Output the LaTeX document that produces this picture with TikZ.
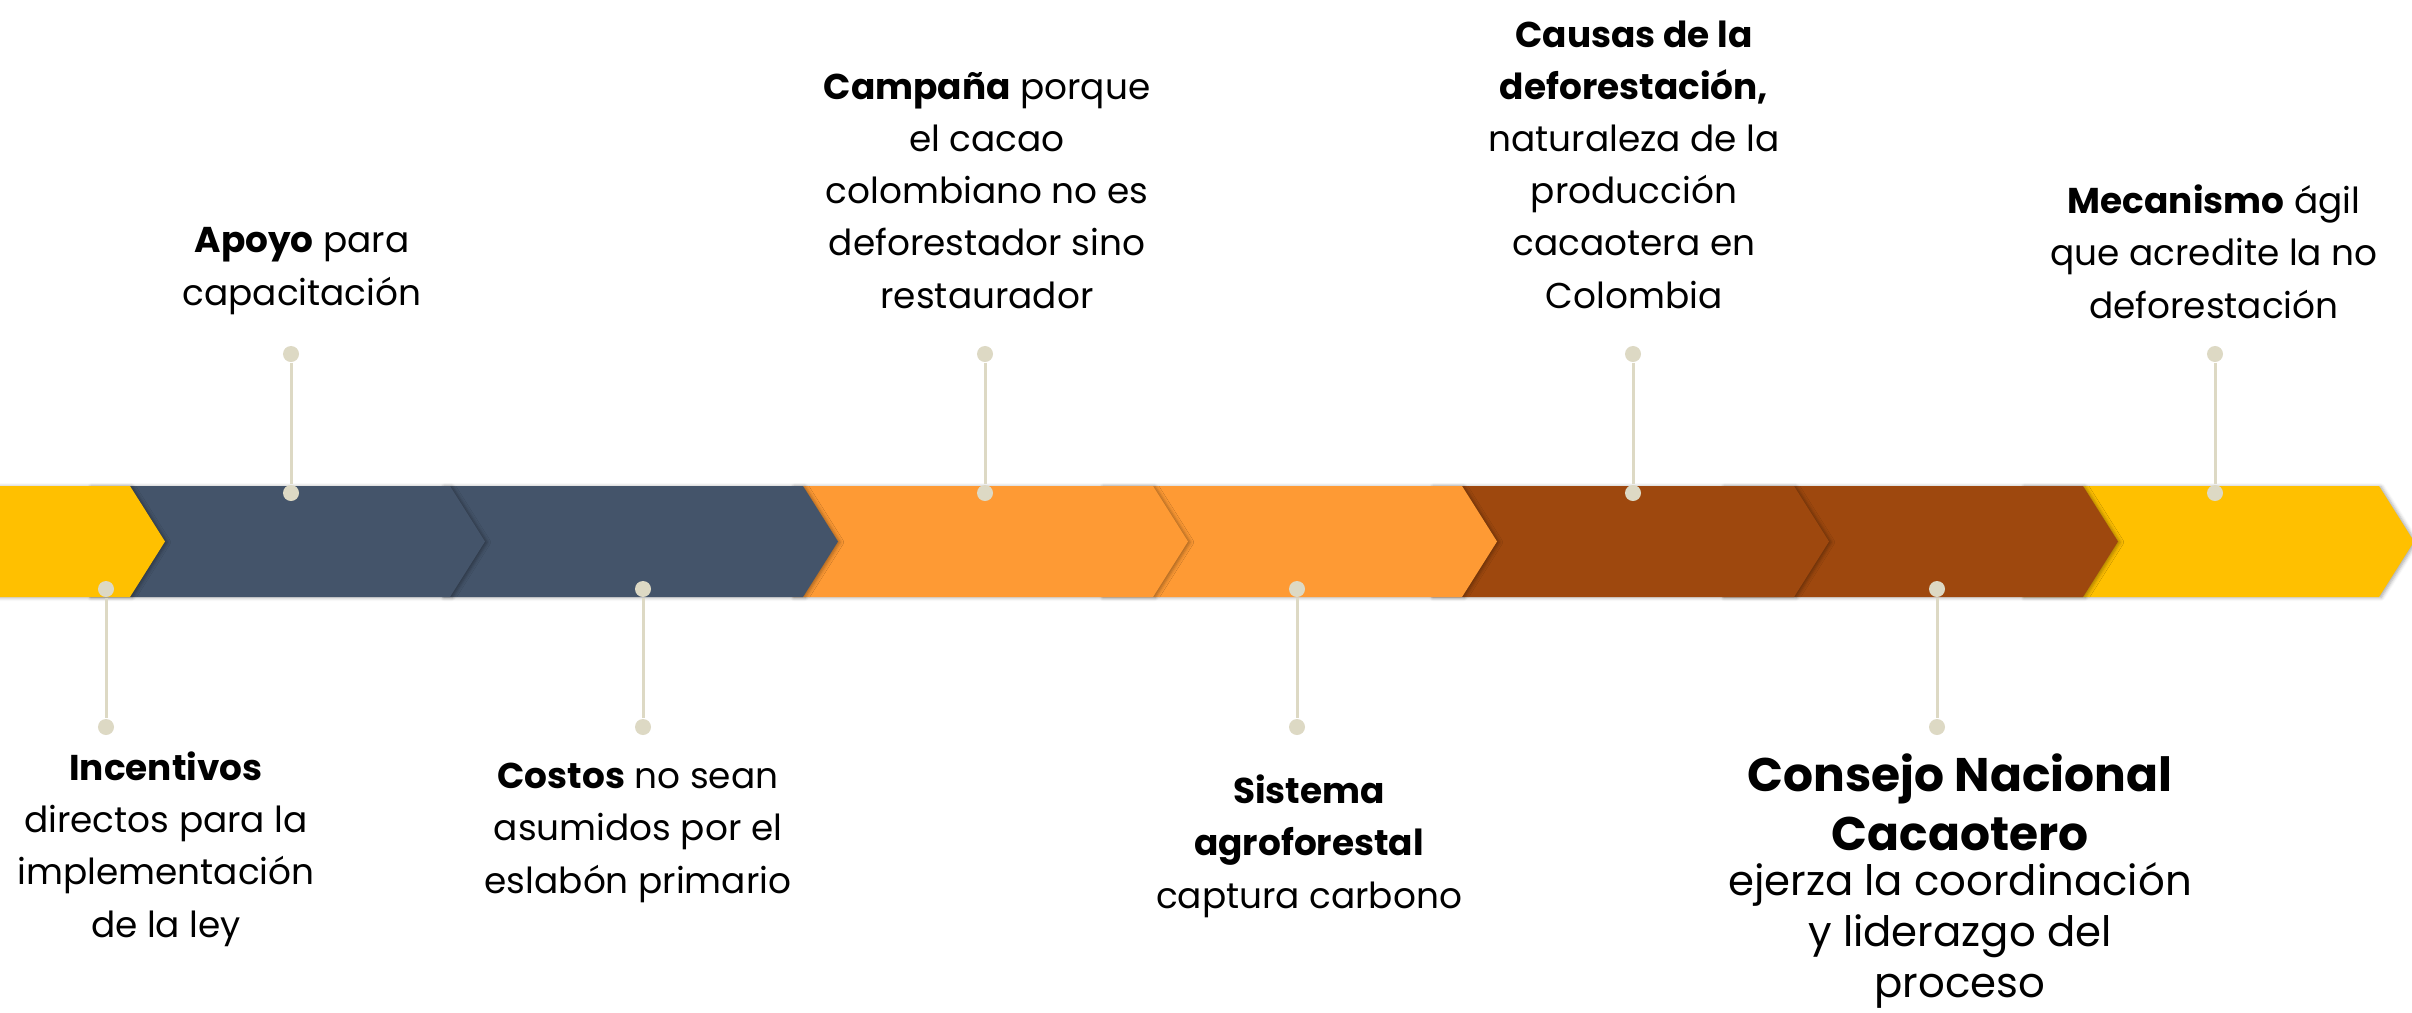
\documentclass[tikz,border=0pt]{standalone}
\usepackage{fontspec}
\setmainfont{Poppins}
\usetikzlibrary{shadows.blur}
\definecolor{cyel}{HTML}{FFC000}
\definecolor{cdark}{HTML}{44546A}
\definecolor{corange}{HTML}{FE9A34}
\definecolor{cbrown}{HTML}{9E480E}
\definecolor{cpin}{HTML}{DDD9C4}
\newcommand{\mychev}[3]{%
  \fill[#1, chev] (#2,486) -- (#3-35,486) -- (#3,541.5) -- (#3-35,597) -- (#2,597) -- cycle;}
\begin{document}
\begin{tikzpicture}[x=0.01cm,y=-0.01cm,
  chev/.style={blur shadow={shadow xshift=0.6pt,shadow yshift=-0.2pt,shadow blur steps=4,shadow opacity=35,shadow blur radius=1pt}},
  pin/.style={fill=cpin, circle, minimum size=0.16cm, inner sep=0pt},
  stem/.style={draw=cpin, line width=0.03cm},
  lbl/.style={align=center, anchor=base, inner sep=0pt, font=\fontsize{10.2}{14.8}\selectfont},
  lblbig/.style={align=center, anchor=base, inner sep=0pt, font=\fontsize{13.4}{16.5}\selectfont\bfseries},
  lblmid/.style={align=center, anchor=base, inner sep=0pt, font=\fontsize{11.9}{14.4}\selectfont},
]
\useasboundingbox (0,0) rectangle (2412,1012);
% chevrons, later ones underneath
\mychev{cyel}{2022}{2414}
\mychev{cbrown}{1722}{2118}
\mychev{cbrown}{1431}{1829}
\mychev{corange}{1101}{1497}
\mychev{corange}{792}{1188}
\mychev{cdark}{442}{838}
\mychev{cdark}{89}{485}
\mychev{cyel}{-240}{165}
% pins (top)
\node[pin] (a1) at (291,354) {};  \node[pin] (a2) at (291,493) {};
\node[pin] (c1) at (985,354) {};  \node[pin] (c2) at (985,493) {};
\node[pin] (d1) at (1633,354) {}; \node[pin] (d2) at (1633,493) {};
\node[pin] (m1) at (2215,354) {}; \node[pin] (m2) at (2215,493) {};
% pins (bottom)
\node[pin] (i1) at (106,589) {};  \node[pin] (i2) at (106,727) {};
\node[pin] (k1) at (643,589) {};  \node[pin] (k2) at (643,727) {};
\node[pin] (s1) at (1297,589) {}; \node[pin] (s2) at (1297,727) {};
\node[pin] (n1) at (1937,589) {}; \node[pin] (n2) at (1937,727) {};
\draw[stem] (a1) -- (a2);
\draw[stem] (c1) -- (c2);
\draw[stem] (d1) -- (d2);
\draw[stem] (m1) -- (m2);
\draw[stem] (i1) -- (i2);
\draw[stem] (k1) -- (k2);
\draw[stem] (s1) -- (s2);
\draw[stem] (n1) -- (n2);
% labels (anchored at the baseline of their last line)
\node[lbl] (tApoyo) at (302,305) {\textbf{Apoyo} para\\capacitación};
\node[lbl] (tCampana) at (987,308) {\textbf{Campaña} porque\\el cacao\\colombiano no es\\deforestador sino\\restaurador};
\node[lbl] (tCausas) at (1634,308) {\textbf{Causas de la}\\\textbf{deforestación,}\\naturaleza de la\\producción\\cacaotera en\\Colombia};
\node[lbl] (tMec) at (2214,318) {\textbf{Mecanismo} ágil\\que acredite la no\\deforestación};
\node[lbl] (tInc) at (166,937) {\textbf{Incentivos}\\directos para la\\implementación\\de la ley};
\node[lbl] (tCostos) at (638,893) {\textbf{Costos} no sean\\asumidos por el\\eslabón primario};
\node[lbl] (tSist) at (1309,908) {\textbf{Sistema}\\\textbf{agroforestal}\\captura carbono};
\node[lblbig] (tConsejo) at (1960,850) {Consejo Nacional\\Cacaotero};
\node[lblmid] (tConsejoB) at (1960,997) {ejerza la coordinación\\y liderazgo del\\proceso};
\end{tikzpicture}
\end{document}
